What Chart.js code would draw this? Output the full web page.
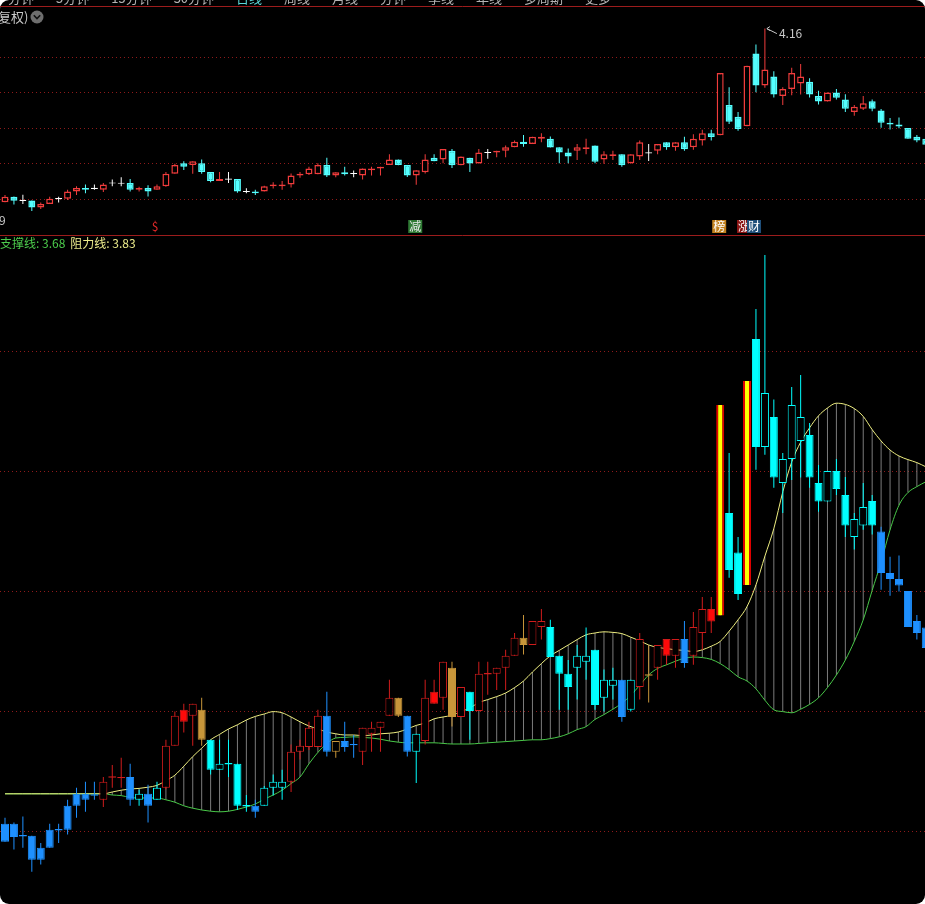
<!DOCTYPE html>
<html>
<head>
<meta charset="utf-8">
<script src="https://cdn.jsdelivr.net/npm/chart.js@4.4.0/dist/chart.umd.min.js"></script>
<style>
  html, body { margin: 0; padding: 0; background: #fff; }
  #wrap { width: 925px; height: 904px; background: #000; border-radius: 9px; overflow: hidden; position: relative; }
  canvas { display: block; }
</style>
</head>
<body>
<div id="wrap"><canvas id="kline" width="925" height="904"></canvas></div>
<script>
// daily bars (price)
const opens = [
  3.182, 3.212, 3.192, 3.192, 3.152, 3.172, 3.202, 3.202, 3.242, 3.262,
  3.260, 3.252, 3.290, 3.289, 3.290, 3.252, 3.262, 3.252, 3.272, 3.342,
  3.402, 3.392, 3.402, 3.352, 3.302, 3.312, 3.312, 3.242, 3.242, 3.242,
  3.272, 3.272, 3.282, 3.332, 3.340, 3.340, 3.392, 3.332, 3.350, 3.344,
  3.332, 3.362, 3.372, 3.392, 3.422, 3.392, 3.332, 3.350, 3.432, 3.422,
  3.472, 3.390, 3.432, 3.400, 3.462, 3.462, 3.472, 3.492, 3.522, 3.510,
  3.540, 3.540, 3.492, 3.462, 3.472, 3.482, 3.502, 3.422, 3.442, 3.452,
  3.402, 3.440, 3.460, 3.472, 3.520, 3.492, 3.520, 3.492, 3.530, 3.570,
  3.559, 3.730, 3.664, 3.610, 4.020, 3.840, 3.890, 3.780, 3.820, 3.850,
  3.860, 3.780, 3.749, 3.800, 3.760, 3.690, 3.709, 3.750, 3.699, 3.630,
  3.620, 3.600, 3.550, 3.539
];
const highs = [
  3.222, 3.214, 3.224, 3.192, 3.180, 3.212, 3.212, 3.252, 3.272, 3.282,
  3.282, 3.290, 3.310, 3.322, 3.312, 3.269, 3.277, 3.282, 3.352, 3.399,
  3.412, 3.412, 3.422, 3.352, 3.352, 3.352, 3.312, 3.260, 3.252, 3.275,
  3.294, 3.302, 3.344, 3.352, 3.382, 3.402, 3.432, 3.350, 3.382, 3.360,
  3.372, 3.382, 3.382, 3.452, 3.422, 3.392, 3.362, 3.452, 3.452, 3.482,
  3.482, 3.440, 3.432, 3.482, 3.482, 3.472, 3.502, 3.530, 3.560, 3.550,
  3.570, 3.552, 3.492, 3.485, 3.510, 3.539, 3.502, 3.469, 3.472, 3.452,
  3.452, 3.530, 3.510, 3.510, 3.520, 3.520, 3.550, 3.565, 3.590, 3.590,
  3.910, 3.830, 3.690, 3.950, 4.070, 4.160, 3.919, 3.830, 3.940, 3.960,
  3.880, 3.810, 3.800, 3.820, 3.790, 3.730, 3.780, 3.760, 3.707, 3.657,
  3.659, 3.600, 3.560, 3.552
];
const lows = [
  3.182, 3.169, 3.172, 3.132, 3.144, 3.172, 3.180, 3.194, 3.222, 3.232,
  3.252, 3.240, 3.272, 3.272, 3.242, 3.242, 3.214, 3.252, 3.269, 3.342,
  3.364, 3.342, 3.342, 3.294, 3.302, 3.290, 3.235, 3.232, 3.222, 3.242,
  3.259, 3.252, 3.265, 3.319, 3.335, 3.340, 3.324, 3.322, 3.332, 3.322,
  3.310, 3.332, 3.332, 3.392, 3.390, 3.324, 3.280, 3.344, 3.412, 3.402,
  3.374, 3.390, 3.352, 3.400, 3.427, 3.435, 3.435, 3.492, 3.494, 3.510,
  3.519, 3.490, 3.402, 3.402, 3.419, 3.452, 3.402, 3.399, 3.419, 3.382,
  3.399, 3.419, 3.414, 3.452, 3.477, 3.472, 3.472, 3.477, 3.502, 3.530,
  3.559, 3.622, 3.585, 3.610, 3.802, 3.827, 3.772, 3.730, 3.785, 3.789,
  3.772, 3.732, 3.749, 3.760, 3.690, 3.669, 3.702, 3.694, 3.602, 3.592,
  3.599, 3.540, 3.519, 3.502
];
const closes = [
  3.212, 3.190, 3.192, 3.152, 3.172, 3.202, 3.202, 3.242, 3.262, 3.252,
  3.260, 3.282, 3.290, 3.289, 3.252, 3.262, 3.242, 3.272, 3.342, 3.392,
  3.382, 3.412, 3.352, 3.302, 3.312, 3.312, 3.242, 3.242, 3.232, 3.272,
  3.282, 3.282, 3.332, 3.342, 3.372, 3.392, 3.332, 3.350, 3.340, 3.344,
  3.372, 3.372, 3.382, 3.422, 3.392, 3.332, 3.362, 3.422, 3.412, 3.482,
  3.390, 3.440, 3.400, 3.462, 3.462, 3.472, 3.492, 3.522, 3.510, 3.550,
  3.550, 3.490, 3.462, 3.440, 3.492, 3.492, 3.410, 3.452, 3.452, 3.390,
  3.452, 3.520, 3.460, 3.510, 3.492, 3.520, 3.480, 3.540, 3.570, 3.549,
  3.910, 3.635, 3.595, 3.950, 3.840, 3.930, 3.789, 3.820, 3.910, 3.890,
  3.789, 3.749, 3.800, 3.770, 3.709, 3.720, 3.740, 3.709, 3.630, 3.620,
  3.609, 3.540, 3.530, 3.505
];

// 阻力线 / 支撑线
const resistance = [
  3.262, 3.262, 3.262, 3.262, 3.262, 3.262, 3.262, 3.262, 3.262, 3.262,
  3.262, 3.262, 3.265, 3.268, 3.270, 3.271, 3.273, 3.276, 3.284, 3.293,
  3.308, 3.324, 3.338, 3.352, 3.361, 3.370, 3.377, 3.385, 3.391, 3.395,
  3.399, 3.397, 3.390, 3.382, 3.375, 3.370, 3.365, 3.362, 3.360, 3.360,
  3.359, 3.360, 3.362, 3.363, 3.365, 3.370, 3.376, 3.380, 3.387, 3.390,
  3.393, 3.399, 3.405, 3.414, 3.419, 3.424, 3.430, 3.439, 3.450, 3.465,
  3.479, 3.492, 3.501, 3.510, 3.519, 3.527, 3.530, 3.532, 3.531, 3.529,
  3.523, 3.517, 3.510, 3.506, 3.504, 3.502, 3.501, 3.499, 3.502, 3.508,
  3.516, 3.533, 3.552, 3.574, 3.610, 3.658, 3.704, 3.765, 3.815, 3.848,
  3.872, 3.892, 3.905, 3.913, 3.911, 3.904, 3.891, 3.869, 3.850, 3.835,
  3.825, 3.819, 3.814, 3.807
];
const support = [
  3.262, 3.262, 3.262, 3.262, 3.262, 3.262, 3.262, 3.262, 3.262, 3.262,
  3.262, 3.262, 3.260, 3.259, 3.256, 3.255, 3.255, 3.255, 3.252, 3.248,
  3.242, 3.238, 3.235, 3.233, 3.232, 3.233, 3.236, 3.240, 3.245, 3.253,
  3.260, 3.268, 3.279, 3.290, 3.312, 3.331, 3.346, 3.355, 3.356, 3.357,
  3.356, 3.355, 3.353, 3.350, 3.348, 3.347, 3.347, 3.347, 3.347, 3.346,
  3.345, 3.345, 3.345, 3.346, 3.347, 3.348, 3.349, 3.350, 3.351, 3.352,
  3.352, 3.354, 3.357, 3.362, 3.369, 3.374, 3.386, 3.394, 3.403, 3.413,
  3.426, 3.443, 3.460, 3.471, 3.477, 3.483, 3.488, 3.490, 3.489, 3.486,
  3.479, 3.469, 3.457, 3.450, 3.437, 3.418, 3.402, 3.399, 3.397, 3.403,
  3.411, 3.422, 3.439, 3.460, 3.485, 3.516, 3.552, 3.601, 3.648, 3.702,
  3.743, 3.764, 3.774, 3.782
];

// signal state of each bar in the lower panel: B / C / R / G, Y = limit up
const bandState = (
  'BBBBBBBBBBB' + 'RRR' + 'B' + 'C' + 'B' + 'C' + 'RRRR' + 'G' + 'CCCCC' + 'B' +
  'CCC' + 'RRRR' + 'B' + 'G' + 'BB' + 'RRRR' + 'G' + 'B' + 'C' + 'RRR' + 'G' +
  'R' + 'C' + 'RRRRR' + 'G' + 'RR' + 'CCCCCCCC' + 'B' + 'C' + 'R' + 'G' + 'RRR' +
  'B' + 'RRR' + 'Y' + 'CC' + 'Y' + 'CCCCCCCCCCCCCC' + 'BBBBBB'
).split('');

const gridPrices = [4.0, 3.8, 3.6, 3.4, 3.2];
const supportLabel = 3.68;
const resistLabel = 3.83;

const N = opens.length;
const xs = opens.map((_, i) => i);

const stateColor = { B: '#1e90ff', C: '#00ffff', R: '#d01c1c', G: '#c8963a', Y: '#ffff00' };
const topUp = '#f03c3c', topDown = '#54ffff', topFlat = '#ffffff';

function isUp(i) { return closes[i] > opens[i] + 1e-6; }
function isFlat(i) { return Math.abs(closes[i] - opens[i]) < 1e-6; }
function body(i, eps) {
  if (isFlat(i)) return [opens[i] - eps, opens[i] + eps];
  return [Math.min(opens[i], closes[i]), Math.max(opens[i], closes[i])];
}
const pts = fn => xs.map(i => ({ x: i, y: fn(i) }));

// lower panel colours
const bFill = [], bBorder = [], bWidth = [], bWick = [];
xs.forEach(i => {
  const s = bandState[i];
  if (s === 'Y') {
    bFill.push('#ffff00'); bBorder.push('#e00000');
    bWidth.push({ left: 2, right: 2, top: 0, bottom: 0 });
    bWick.push('#e00000');
    return;
  }
  const c = stateColor[s];
  bWick.push(c);
  bBorder.push(c);
  bWidth.push(1);
  if (s !== 'B' && isUp(i)) bFill.push('#000000');
  else if (s === 'R') bFill.push('#ff0a0a');
  else bFill.push(c);
});

// upper panel colours
const tFill = [], tBorder = [], tWick = [];
xs.forEach(i => {
  if (isFlat(i)) { tFill.push(topFlat); tBorder.push(topFlat); tWick.push(topFlat); }
  else if (isUp(i)) { tFill.push('#000000'); tBorder.push(topUp); tWick.push(topUp); }
  else { tFill.push(topDown); tBorder.push(topDown); tWick.push(topDown); }
});

const FONT = '"Noto Sans CJK SC", "DejaVu Sans", sans-serif';

const decor = {
  id: 'decor',
  beforeDatasetsDraw(chart) {
    const { ctx, chartArea, scales } = chart;
    ctx.save();
    // dotted price grid in both panels
    ctx.strokeStyle = '#8e1a1a';
    ctx.lineWidth = 1;
    ctx.setLineDash([1, 3]);
    [scales.yT, scales.yB].forEach(s => {
      gridPrices.forEach(p => {
        const y = Math.round(s.getPixelForValue(p)) + 0.5;
        ctx.beginPath(); ctx.moveTo(0, y); ctx.lineTo(chartArea.right, y); ctx.stroke();
      });
    });
    ctx.setLineDash([]);
    ctx.strokeStyle = '#9c1c1c';
    [6.5, 235.5].forEach(y => {
      ctx.beginPath(); ctx.moveTo(0, y); ctx.lineTo(chartArea.right, y); ctx.stroke();
    });
    ctx.restore();
  },
  afterDraw(chart) {
    const { ctx, scales } = chart;
    const x = scales.x, yT = scales.yT;
    ctx.save();
    ctx.textBaseline = 'alphabetic';

    // cut-off toolbar text above the top line
    ctx.font = '13px ' + FONT;
    const tabs = ['分钟', '5分钟', '15分钟', '30分钟', '日线', '周线', '月线', '分钟', '季线', '年线', '多周期', '更多'];
    let tx = 8;
    tabs.forEach((t, k) => {
      ctx.fillStyle = k === 4 ? '#5ad8d8' : '#b4b4b4';
      ctx.fillText(t, tx, 3);
      tx += ctx.measureText(t).width + 22;
    });

    // "复权)" and the drop-down icon
    ctx.fillStyle = '#c8c8c8';
    ctx.fillText('复权)', -2, 22);
    ctx.fillStyle = '#6e6e6e';
    ctx.beginPath(); ctx.arc(37, 17, 6.5, 0, Math.PI * 2); ctx.fill();
    ctx.strokeStyle = '#111'; ctx.lineWidth = 1.6;
    ctx.beginPath(); ctx.moveTo(33.8, 15.3); ctx.lineTo(37, 18.6); ctx.lineTo(40.2, 15.3); ctx.stroke();

    // highest price marker
    let hi = 0;
    highs.forEach((h, i) => { if (h > highs[hi]) hi = i; });
    const hx = x.getPixelForValue(hi) + 1, hy = yT.getPixelForValue(highs[hi]);
    ctx.strokeStyle = '#c8c8c8'; ctx.lineWidth = 1;
    ctx.beginPath(); ctx.moveTo(hx + 1, hy); ctx.lineTo(hx + 11, hy + 5); ctx.stroke();
    ctx.beginPath(); ctx.moveTo(hx + 4, hy - 2); ctx.lineTo(hx + 1, hy); ctx.lineTo(hx + 4, hy + 2); ctx.stroke();
    ctx.font = '12px ' + FONT;
    ctx.fillStyle = '#c8c8c8';
    ctx.fillText(highs[hi].toFixed(2), hx + 13, hy + 9);

    ctx.fillText('9', -1, 225);

    // event markers under the upper panel
    const marks = [
      { bar: 17, dx: -2, text: '$', bg: null, fg: '#e02828' },
      { bar: 46, dx: -1, text: '减', bg: '#2f7a34', fg: '#e8e8e8' },
      { bar: 80, dx: -1, text: '榜', bg: '#c0801e', fg: '#ffffff' },
      { bar: 83, dx: -3, text: '涨', bg: '#8a1414', fg: '#ffffff' },
      { bar: 83, dx: 7, text: '财', bg: '#1f4f7a', fg: '#ffffff' }
    ];
    ctx.font = '12px ' + FONT;
    ctx.textAlign = 'center';
    marks.forEach(m => {
      const cx = x.getPixelForValue(m.bar) + m.dx;
      if (m.bg) { ctx.fillStyle = m.bg; ctx.fillRect(cx - 7, 220, 14, 13); }
      ctx.fillStyle = m.fg;
      ctx.fillText(m.text, cx, 231);
    });

    // indicator legend
    ctx.textAlign = 'left';
    ctx.font = '12px ' + FONT;
    let lx = 0;
    ctx.fillStyle = '#4ccc4c';
    const s1 = '支撑线: ' + supportLabel.toFixed(2);
    ctx.fillText(s1, lx, 248);
    lx += ctx.measureText(s1).width + 5;
    ctx.fillStyle = '#ecec8c';
    ctx.fillText('阻力线: ' + resistLabel.toFixed(2), lx, 248);
    ctx.restore();
  }
};

new Chart(document.getElementById('kline'), {
  data: {
    datasets: [
      // hatching between support and resistance
      { type: 'bar', yAxisID: 'yB', data: pts(i => [support[i], resistance[i]]),
        backgroundColor: '#7c7c7c', maxBarThickness: 1, order: 9 },
      { type: 'line', yAxisID: 'yB', data: pts(i => resistance[i]),
        borderColor: '#eeee80', borderWidth: 1, pointRadius: 0, cubicInterpolationMode: 'monotone', order: 7 },
      { type: 'line', yAxisID: 'yB', data: pts(i => support[i]),
        borderColor: '#48c848', borderWidth: 1, pointRadius: 0, cubicInterpolationMode: 'monotone', order: 8 },
      // lower panel candles
      { type: 'bar', yAxisID: 'yB', data: pts(i => [lows[i], highs[i]]),
        backgroundColor: bWick, maxBarThickness: 1, order: 5 },
      { type: 'bar', yAxisID: 'yB', data: pts(i => body(i, 0.0012)),
        backgroundColor: bFill, borderColor: bBorder, borderWidth: bWidth, maxBarThickness: 8, order: 4 },
      // upper panel candles
      { type: 'bar', yAxisID: 'yT', data: pts(i => [lows[i], highs[i]]),
        backgroundColor: tWick, maxBarThickness: 1, order: 3 },
      { type: 'bar', yAxisID: 'yT', data: pts(i => body(i, 0.003)),
        backgroundColor: tFill, borderColor: tBorder, borderWidth: 1.5, maxBarThickness: 7, order: 2 }
    ]
  },
  options: {
    responsive: false,
    maintainAspectRatio: false,
    animation: false,
    events: [],
    layout: { padding: 0 },
    datasets: {
      bar: { grouped: false, borderSkipped: false, categoryPercentage: 1, barPercentage: 1, inflateAmount: 0 }
    },
    plugins: { legend: { display: false }, tooltip: { enabled: false } },
    scales: {
      x: { type: 'linear', display: false, offset: false, min: -0.559, max: 102.91, ticks: { includeBounds: false } },
      yT: { type: 'linear', display: false, min: -0.7719, max: 4.3211 },
      yB: { type: 'linear', display: false, min: 3.07833, max: 4.585 }
    }
  },
  plugins: [decor]
});
</script>
</body>
</html>
